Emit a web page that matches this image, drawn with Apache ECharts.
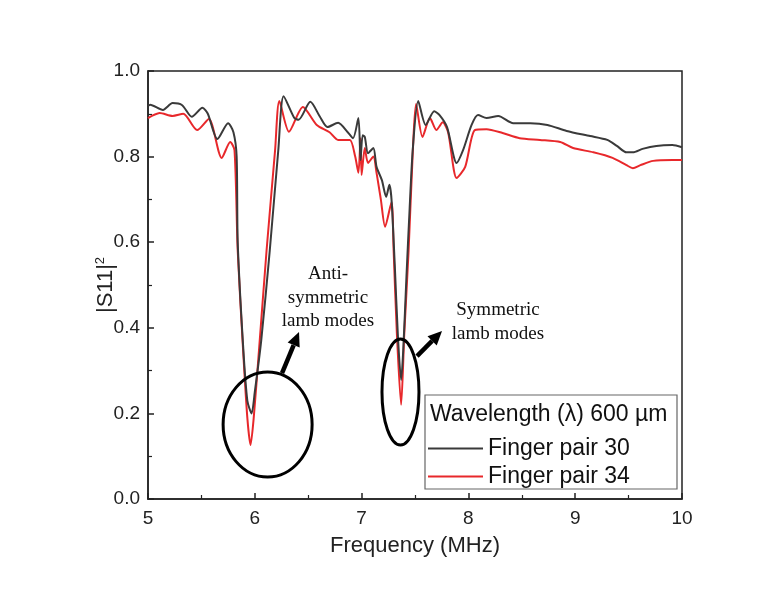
<!DOCTYPE html>
<html>
<head>
<meta charset="utf-8">
<script src="https://cdn.jsdelivr.net/npm/echarts@6/dist/echarts.min.js"></script>
<style>
  html, body { margin: 0; background: #fff; }
  #chart { width: 779px; height: 593px; }
</style>
</head>
<body>
<div id="chart"></div>
<script>
// Finger pair 30 (black)
const freq30 = [5.00, 5.02, 5.14, 5.23, 5.32, 5.41, 5.51, 5.56, 5.65, 5.75, 5.80, 5.83, 5.84, 5.89, 5.93, 5.97,
  6.00, 6.06, 6.14, 6.22, 6.27, 6.37, 6.41, 6.52, 6.61, 6.68, 6.78, 6.87, 6.92, 6.97, 6.99, 7.01, 7.03,
  7.06, 7.11, 7.14, 7.19, 7.23, 7.26, 7.28, 7.31, 7.34, 7.37, 7.39, 7.42, 7.45, 7.48, 7.53, 7.60, 7.68,
  7.73, 7.80, 7.89, 7.95, 8.03, 8.09, 8.17, 8.28, 8.42, 8.58, 8.74, 8.92, 9.14, 9.30, 9.39, 9.48, 9.54,
  9.63, 9.76, 9.91, 10.00]
const s11_30 = [0.918, 0.921, 0.909, 0.925, 0.920, 0.893, 0.914, 0.900, 0.841, 0.878, 0.857, 0.80, 0.60, 0.36, 0.23, 0.20,
  0.25, 0.37, 0.58, 0.815, 0.941, 0.890, 0.886, 0.928, 0.893, 0.869, 0.879, 0.857, 0.843, 0.890, 0.792, 0.850, 0.846,
  0.808, 0.820, 0.776, 0.745, 0.706, 0.734, 0.700, 0.550, 0.380, 0.278, 0.348, 0.520, 0.680, 0.820, 0.930, 0.874, 0.906,
  0.897, 0.869, 0.785, 0.815, 0.874, 0.897, 0.890, 0.895, 0.878, 0.878, 0.874, 0.860, 0.848, 0.839, 0.825, 0.810, 0.810,
  0.818, 0.825, 0.827, 0.822]

// Finger pair 34 (red)
const freq34 = [5.00, 5.02, 5.11, 5.23, 5.33, 5.46, 5.57, 5.69, 5.77, 5.81, 5.84, 5.89, 5.93, 5.96, 5.99, 6.04, 6.11,
  6.19, 6.23, 6.32, 6.45, 6.58, 6.70, 6.78, 6.89, 6.94, 6.97, 6.99, 7.00, 7.03, 7.06, 7.11, 7.14, 7.18,
  7.22, 7.28, 7.30, 7.33, 7.37, 7.40, 7.44, 7.48, 7.51, 7.57, 7.64, 7.70, 7.76, 7.81, 7.89, 7.97, 8.06,
  8.17, 8.32, 8.48, 8.67, 8.86, 8.98, 9.17, 9.35, 9.48, 9.54, 9.61, 9.73, 9.91, 10.00]
const s11_34 = [0.890, 0.893, 0.902, 0.895, 0.900, 0.862, 0.888, 0.797, 0.834, 0.815, 0.580, 0.350, 0.190, 0.126, 0.190, 0.350, 0.580,
  0.815, 0.930, 0.858, 0.916, 0.874, 0.857, 0.839, 0.839, 0.800, 0.762, 0.843, 0.757, 0.820, 0.785, 0.800, 0.762, 0.700,
  0.636, 0.694, 0.580, 0.388, 0.220, 0.388, 0.580, 0.815, 0.923, 0.846, 0.890, 0.862, 0.880, 0.857, 0.750, 0.776, 0.862,
  0.864, 0.855, 0.843, 0.839, 0.834, 0.820, 0.810, 0.797, 0.780, 0.773, 0.780, 0.790, 0.792, 0.792]

const xTicks = { min: 5, max: 10, step: 1 }
const yTicks = { min: 0, max: 1, step: 0.2 }

const chart = echarts.init(document.getElementById('chart'))
const font = '"Liberation Sans", Arial, sans-serif'
const serif = '"Liberation Serif", "Times New Roman", serif'

chart.setOption({
  animation: false,
  backgroundColor: '#fff',
  grid: {
    left: 148, right: 97, top: 71, bottom: 94,
    show: true, borderColor: '#222', borderWidth: 1.5
  },
  xAxis: {
    type: 'value',
    min: xTicks.min, max: xTicks.max, interval: xTicks.step,
    name: 'Frequency (MHz)', nameLocation: 'middle', nameGap: 36,
    nameTextStyle: { fontFamily: font, fontSize: 22, color: '#222' },
    axisLine: { lineStyle: { color: '#222', width: 1.5 } },
    axisTick: { inside: true, length: 6, lineStyle: { color: '#222', width: 1.5 } },
    minorTick: { show: true, splitNumber: 2, length: 4, lineStyle: { color: '#222', width: 1.2 } },
    axisLabel: { fontFamily: font, fontSize: 19, color: '#222', margin: 10 },
    splitLine: { show: false }
  },
  yAxis: {
    type: 'value',
    min: yTicks.min, max: yTicks.max, interval: yTicks.step,
    name: '|S11|{sup|2}', nameLocation: 'middle', nameGap: 31, nameRotate: 90,
    nameMoveOverlap: false,
    nameTextStyle: {
      fontFamily: font, fontSize: 22, color: '#222',
      rich: { sup: { fontFamily: font, fontSize: 13, color: '#222', verticalAlign: 'top', padding: [0, 0, 10, 0] } }
    },
    axisLine: { lineStyle: { color: '#222', width: 1.5 } },
    axisTick: { inside: true, length: 6, lineStyle: { color: '#222', width: 1.5 } },
    minorTick: { show: true, splitNumber: 2, length: 4, lineStyle: { color: '#222', width: 1.2 } },
    axisLabel: { fontFamily: font, fontSize: 19, color: '#222', margin: 8, formatter: v => v.toFixed(1) },
    splitLine: { show: false }
  },
  legend: {
    orient: 'vertical',
    left: 423, top: 432,
    itemWidth: 55, itemHeight: 2, itemGap: 5,
    icon: 'rect',
    textStyle: { fontFamily: font, fontSize: 23, color: '#111' },
    data: ['Finger pair 30', 'Finger pair 34']
  },
  series: [
    {
      name: 'Finger pair 30',
      type: 'line',
      data: freq30.map((f, i) => [f, s11_30[i]]),
      smooth: 0.25,
      symbol: 'none',
      lineStyle: { color: '#3a3a3a', width: 2 },
      itemStyle: { color: '#3a3a3a' },
      z: 3
    },
    {
      name: 'Finger pair 34',
      type: 'line',
      data: freq34.map((f, i) => [f, s11_34[i]]),
      smooth: 0.25,
      symbol: 'none',
      lineStyle: { color: '#e8282b', width: 2 },
      itemStyle: { color: '#e8282b' },
      z: 2
    }
  ]
})

// annotations, anchored in data space
const px = (x, y) => chart.convertToPixel({ gridIndex: 0 }, [x, y])

const arrow = (tail, tip) => {
  const a = px(tail[0], tail[1])
  const b = px(tip[0], tip[1])
  const dx = b[0] - a[0], dy = b[1] - a[1]
  const len = Math.sqrt(dx * dx + dy * dy)
  const ux = dx / len, uy = dy / len
  const base = [b[0] - ux * 14, b[1] - uy * 14]
  const nx = -uy * 6.5, ny = ux * 6.5
  return [
    { type: 'line', shape: { x1: a[0], y1: a[1], x2: base[0], y2: base[1] }, style: { stroke: '#000', lineWidth: 4.5 } },
    { type: 'polygon', shape: { points: [b, [base[0] + nx, base[1] + ny], [base[0] - nx, base[1] - ny]] }, style: { fill: '#000' } }
  ]
}

const c1 = px(6.12, 0.174)
const c2 = px(7.364, 0.25)
const t1 = px(6.685, 0.47)
const t2 = px(8.277, 0.413)

chart.setOption({
  graphic: [
    { type: 'ellipse', shape: { cx: c1[0], cy: c1[1], rx: 44.5, ry: 52.5 }, style: { fill: 'none', stroke: '#000', lineWidth: 3 }, z: 10 },
    { type: 'ellipse', shape: { cx: c2[0], cy: c2[1], rx: 18.5, ry: 53 }, style: { fill: 'none', stroke: '#000', lineWidth: 3 }, z: 10 },
    ...arrow([6.255, 0.294], [6.414, 0.390]),
    ...arrow([7.519, 0.334], [7.753, 0.3925]),
    {
      type: 'text', x: t1[0], y: t1[1],
      style: { text: 'Anti-\nsymmetric\nlamb modes', font: '19px ' + serif, fill: '#111', align: 'center', verticalAlign: 'middle', lineHeight: 23.5 }
    },
    {
      type: 'text', x: t2[0], y: t2[1],
      style: { text: 'Symmetric\nlamb modes', font: '19px ' + serif, fill: '#111', align: 'center', verticalAlign: 'middle', lineHeight: 24 }
    },
    // legend frame and header
    { type: 'rect', shape: { x: 425, y: 395, width: 252, height: 94 }, style: { fill: '#fff', stroke: '#666', lineWidth: 1.2 }, z: -1 },
    {
      type: 'text', x: 430, y: 415,
      style: { text: 'Wavelength (λ) 600 µm', font: '23px ' + font, fill: '#111', verticalAlign: 'middle' }
    }
  ]
})
</script>
</body>
</html>
